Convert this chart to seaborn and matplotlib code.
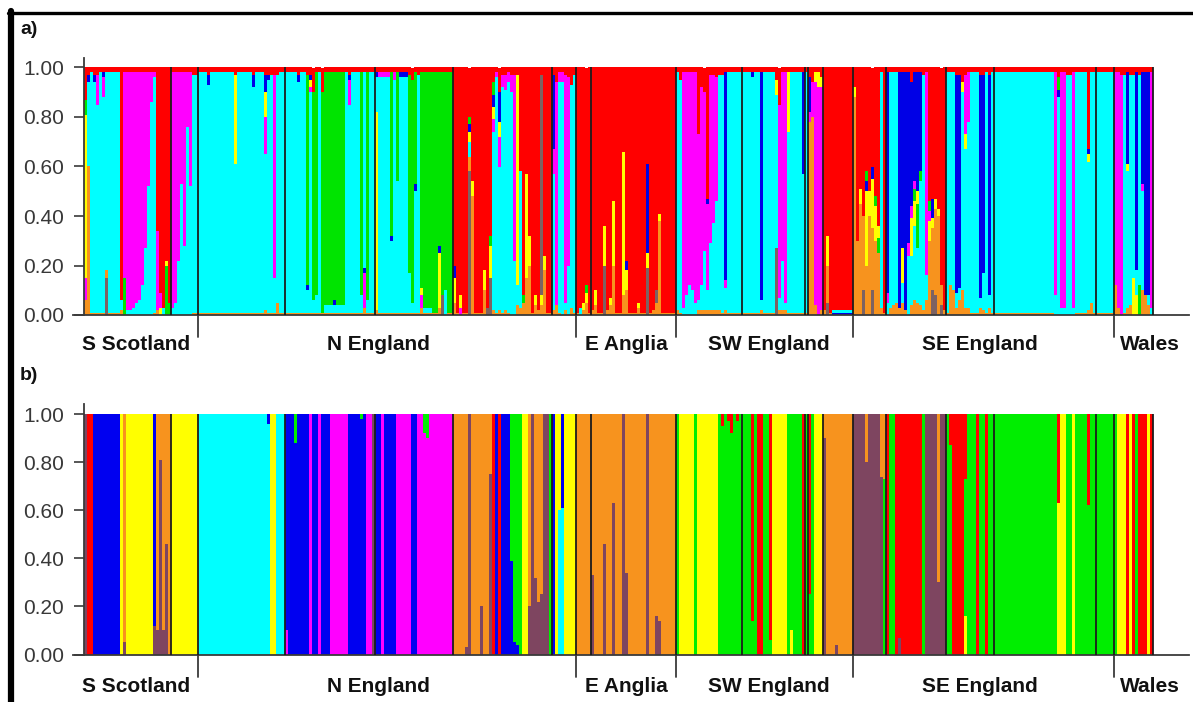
import matplotlib
matplotlib.use("Agg")
import numpy as np
import pandas as pd
import seaborn as sns
import matplotlib.pyplot as plt
from matplotlib.lines import Line2D

# ---------------- data ----------------
regions = ["S Scotland", "N England", "E Anglia", "SW England", "SE England", "Wales"]
label_shift = [-1.5, -3.0, 0.0, 1.5, -1.0, 0.0]   # small nudges of the region labels (individuals)
# individuals per sampled population inside each region (separator lines)
pop_sizes = [[29, 9], [29, 30, 26, 33, 8], [5, 28], [22, 21, 1, 5, 10], [11, 20, 16, 34, 6], [13]]
yticks = [0.0, 0.2, 0.4, 0.6, 0.8, 1.0]

# cluster colour codes
colors_a = {"o": "#F7931E", "w": "#7D6262", "c": "#00FFFF", "g": "#00E400",
            "m": "#FF00FF", "y": "#FFFF00", "b": "#0000E6", "r": "#FF0000"}
colors_b = {"o": "#F7931E", "w": "#7E4560", "c": "#00FFFF", "g": "#00EE00",
            "m": "#FF00FF", "y": "#FFFF00", "b": "#0000F0", "r": "#FF0000"}

# (number of individuals, membership in % from bottom to top)
a_sscot = [(1, "o6 m9 y66 g6 r13"), (1, "o60 c34 b3 r3"), (1, "o1 c97 r2"), (1, "o1 c93 b3 r3"),
           (1, "o1 c84 m12 r3"), (1, "o1 c97 r2"), (1, "o1 c87 m8 b2 r2"), (1, "w15 o3 c80 r2"),
           (4, "o1 c97 r2"), (1, "o2 c4 r94"), (1, "g15 m83 r2"), (2, "c2 m96 r2"), (1, "c3 m95 r2"),
           (1, "c5 m93 r2"), (1, "c6 m92 r2"), (1, "c12 m86 r2"), (1, "c27 m71 r2"), (1, "c52 m46 r2"),
           (1, "c86 m12 r2"), (1, "o1 c95 m2 r2"), (1, "o2 m32 r66"), (1, "y3 m6 r91"), (1, "c3 r97"),
           (1, "g20 y2 r78"), (1, "g5 r95"),
           (1, "c3 m95 r2"), (1, "c5 m93 r2"), (1, "c22 m76 r2"), (1, "c53 m45 r2"), (1, "c28 m70 r2"),
           (1, "c76 m22 r2"), (1, "c52 m46 r2"), (2, "o1 c96 r3")]
a_neng = [(3, "o1 c97 r2"), (1, "o1 c92 b4 r3"), (8, "o1 c97 r2"), (1, "o1 c60 y36 r3"), (5, "o1 c97 r2"),
          (1, "o1 c91 b5 r3"), (3, "o1 c97 r2"), (1, "o2 c63 m15 y10 b7 r3"), (1, "o1 c94 b2 r3"),
          (1, "o1 c96 r3"), (1, "o1 c14 m82 r3"), (1, "o5 c92 r3"), (2, "o1 c97 r2"),
          (4, "o1 c97 r2"), (1, "o1 c93 b3 r3"), (2, "o1 c97 r2"), (1, "o1 c9 b2 g85 r3"),
          (1, "o1 c89 m2 y3 b2 r3"), (1, "o1 c5 g84 r10"), (1, "o1 c7 g90 r2"), (1, "o1 c97 r2"),
          (1, "o1 g89 r10"), (3, "o1 c3 g94 r2"), (1, "o1 c3 b2 g92 r2"), (3, "o1 c3 g94 r2"),
          (1, "o1 c97 r2"), (1, "o1 c84 m10 b2 r3"), (3, "o1 c97 r2"), (1, "o1 c7 g90 r2"),
          (1, "o3 m14 b2 c79 r2"), (1, "o1 c5 g92 r2"), (2, "o1 c97 r2"),
          (1, "o2 y80 c14 b2 r2"), (4, "o1 c95 m2 r2"), (1, "o1 c29 b2 g66 r2"), (1, "o1 c94 m3 r2"),
          (1, "o1 c53 g44 r2"), (3, "o1 c95 b2 r2"), (1, "o1 c16 g80 r3"), (1, "o1 c4 g90 r5"),
          (1, "o1 c49 b3 g45 r2"), (1, "o1 c96 r3"), (1, "o3 m5 y3 g87 r2"), (3, "o1 c2 g95 r2"),
          (2, "o1 g97 r2"), (1, "o3 y22 b3 g70 r2"), (1, "w8 g90 r2"), (1, "c10 g88 r2"), (2, "o1 g97 r2"),
          (1, "o5 y10 b5 r80"), (1, "o1 r99"), (1, "m3 y5 r92"), (2, "o1 r99"),
          (1, "w58 o6 c6 y4 b3 g3 r20"), (1, "o48 y6 r46"), (3, "o1 r99"), (1, "o10 y8 r82"),
          (1, "w3 r97"), (1, "w15 y13 g4 r68"), (1, "o2 c72 m5 y5 b5 g5 r6"), (1, "o1 c95 m2 r2"),
          (1, "o2 c58 m12 y6 b12 r10"), (1, "o1 c91 m5 r3"), (1, "o2 c89 m6 r3"), (1, "o1 c93 m4 r2"),
          (1, "c90 m7 r3"), (1, "c22 m75 r3"), (1, "o4 c8 y85 r3"), (1, "o3 c55 r42"), (1, "o5 g3 r92"),
          (1, "o15 y42 r43"), (1, "o20 y12 r68"), (1, "o1 r99"), (1, "o4 y4 r92"), (1, "o2 r98"),
          (1, "o4 y4 w89 r3"), (1, "o18 y6 r76"), (2, "o1 r99"),
          (1, "o2 c55 m10 b30 r3"), (1, "o4 m90 r6"), (1, "o1 c93 m4 r2"), (1, "c94 m4 r2"),
          (1, "o2 c3 m92 r3"), (1, "c20 m76 r4"), (1, "o3 c90 r7"), (1, "o1 c96 r3")]
a_eang = [(1, "o1 r99"), (1, "c3 r97"), (1, "o2 y3 r95"), (1, "o5 y4 g3 r88"), (1, "o1 r99"),
          (1, "o2 r98"), (1, "o4 y6 r90"), (2, "o1 r99"), (1, "w20 y16 r64"), (1, "o2 r98"),
          (1, "o4 y3 r93"), (1, "o20 y26 r54"), (2, "o1 r99"), (1, "o8 y58 r34"), (1, "o10 y8 b4 r78"),
          (3, "o1 r99"), (1, "o3 y2 r95"), (2, "o1 r99"), (1, "w19 y6 b36 r39"), (1, "o1 r99"),
          (1, "o2 r98"), (1, "o5 w5 r90"), (1, "o38 y3 r59"), (5, "o1 r99")]
a_sweng = [(1, "o2 c96 r2"), (1, "o1 c94 r5"), (1, "c3 m95 r2"), (1, "c8 m90 r2"), (1, "c12 m86 r2"),
           (1, "c10 m88 r2"), (1, "c5 m93 r2"), (1, "o2 c4 m67 r27"), (1, "o2 c10 m80 r8"),
           (1, "o2 c24 m64 r10"), (1, "o2 c8 m35 b2 r53"), (1, "o2 c27 m68 r3"), (1, "o2 c35 m60 r3"),
           (1, "o2 c44 m50 r4"), (1, "o2 c95 r3"), (1, "o1 c96 r3"), (1, "o2 c9 m3 b84 r2"),
           (5, "o1 c97 r2"),
           (3, "o1 c97 r2"), (1, "o1 c95 b2 r2"), (2, "o1 c97 r2"), (1, "o2 c4 b92 r2"), (4, "o1 c97 r2"),
           (1, "w27 c62 y6 r5"), (1, "o2 c5 m78 r15"), (1, "o2 c20 m76 r2"), (1, "o2 c3 m93 r2"),
           (1, "o1 c73 y24 r2"), (4, "o1 c97 r2"), (1, "o1 c56 b41 r2"),
           (1, "o1 c97 r2"),
           (1, "o78 m4 b14 r4"), (1, "o80 m14 r6"), (1, "o4 m90 y4 r2"), (1, "m92 y6 r2"), (1, "o2 m90 y4 r4"),
           (1, "o2 r98"), (1, "w5 o15 y12 r68"), (1, "o1 r99"), (7, "b1 c1 r98")]
a_seeng = [(1, "o88 y4 r8"), (1, "o30 r70"), (1, "o45 y6 r49"), (1, "w10 o30 r60"),
           (1, "o20 y30 b4 g4 r42"), (1, "o40 y10 r50"), (1, "w10 o25 y20 b5 r40"), (1, "o30 y14 g4 r52"),
           (1, "o25 g6 y5 r64"), (1, "o3 c95 r2"), (1, "o1 r99"),
           (1, "c5 m4 b89 r2"), (1, "o3 c95 r2"), (1, "o4 c94 r2"), (1, "o5 c93 r2"), (1, "o3 b95 r2"),
           (1, "o5 c8 y14 b71 r2"), (1, "o2 b96 r2"), (1, "c24 m5 b69 r2"), (1, "o4 c20 y15 m5 b50 r6"),
           (1, "o6 c30 y10 g5 m3 b44 r2"), (1, "o5 c22 g18 y5 b48 r2"), (1, "o4 c50 g4 b40 r2"),
           (1, "o2 c95 r3"), (1, "o6 c10 m82 r2"), (1, "o30 y8 m4 g4 r54"), (1, "w10 o25 y4 b8 r53"),
           (1, "w8 o35 y4 r53"), (1, "o40 y3 r57"), (1, "w4 o8 r88"), (1, "o2 r98"),
           (1, "o1 c97 r2"), (1, "o12 c86 r2"), (1, "o10 c88 r2"), (1, "o3 c6 b88 r3"), (1, "o6 c5 b86 r3"),
           (1, "o10 c80 y4 r6"), (1, "o3 c64 y6 m24 r3"), (1, "o3 c75 m20 r2"), (3, "o1 c97 r2"),
           (1, "o3 c4 b90 r3"), (1, "o2 c15 b80 r3"), (1, "o1 c97 r2"), (1, "o3 c5 b89 r3"), (1, "o1 c97 r2"),
           (19, "o1 c97 r2"), (1, "o1 c97 r2"), (1, "c8 m90 r2"), (1, "c88 b3 g5 r4"), (2, "c3 m95 r2"),
           (2, "c97 r3"), (1, "c3 m95 r2"), (4, "o1 c97 r2"), (1, "o2 c60 y3 b2 r33"), (1, "o5 c93 r2"),
           (1, "o1 c97 r2"),
           (6, "o1 c97 r2")]
a_wales = [(1, "o12 m86 r2"), (1, "o3 m95 r2"), (1, "m97 r3"), (1, "o1 c96 r3"), (1, "o3 c55 y3 b37 r2"),
           (1, "o4 c93 r3"), (1, "y15 c82 r3"), (1, "y8 c10 b80 r2"), (1, "g12 c85 r3"),
           (1, "o10 c40 m3 b45 r2"), (1, "o8 b90 r2"), (1, "o4 c4 b90 r2"), (1, "c3 m95 r2")]

b_sscot = [(1, "w100"), (2, "r100"), (9, "b100"), (1, "y100"), (1, "w5 o95"), (9, "y100"), (1, "w12 b88"),
           (1, "w10 o90"), (1, "w81 o19"), (1, "w10 o90"), (1, "w46 o54"), (1, "o100"), (9, "y100")]
b_neng = [(23, "c100"), (1, "c96 b4"), (2, "y100"), (3, "c100"),
          (1, "m10 b90"), (2, "b100"), (1, "b88 g12"), (4, "b100"), (1, "m100"), (2, "b100"), (1, "m100"),
          (3, "b100"), (6, "m100"), (4, "b100"), (1, "b98 g2"), (1, "b100"), (2, "m100"), (1, "w100"),
          (2, "b100"), (1, "m100"), (4, "b100"), (5, "m100"), (2, "b100"), (2, "m100"), (1, "m92 g8"),
          (1, "m90 g10"), (8, "m100"),
          (4, "o100"), (1, "w3 o97"), (1, "w100"), (3, "o100"), (1, "w20 o80"), (2, "o100"), (1, "w75 o25"),
          (1, "r100"), (1, "b100"), (1, "r100"), (3, "b100"), (1, "b39 g61"), (1, "b5 g95"), (1, "b4 g96"),
          (1, "g100"), (2, "y100"), (1, "w20 o80"), (1, "w100"), (1, "w32 o68"), (1, "w22 o78"),
          (1, "w25 o75"), (2, "w100"), (1, "g100"),
          (1, "b100"), (1, "y100"), (1, "c60 y40"), (1, "c61 b39"), (4, "y100")]
b_eang = [(5, "o100"),
          (1, "w33 o67"), (3, "o100"), (1, "w46 o54"), (2, "o100"), (1, "w63 o37"), (2, "o100"), (1, "w100"),
          (1, "w34 o66"), (6, "o100"), (1, "w100"), (2, "o100"), (1, "w16 o84"), (1, "w14 o86"), (5, "o100")]
b_sweng = [(1, "g100"), (5, "y100"), (1, "g100"), (7, "y100"), (1, "g100"), (1, "g95 r5"), (1, "g100"),
           (1, "g97 r3"), (1, "g92 r8"), (1, "g100"), (1, "g97 r3"), (1, "g100"),
           (3, "g100"), (1, "g14 r86"), (1, "g100"), (2, "r100"), (2, "g100"), (1, "g6 r94"), (5, "y100"),
           (1, "g100"), (1, "y10 g90"), (3, "g100"), (1, "r100"),
           (1, "g100"),
           (1, "g25 r75"), (1, "g100"), (3, "y100"),
           (1, "w90 o10"), (3, "o100"), (1, "w4 o96"), (5, "o100")]
b_seeng = [(4, "w100"), (1, "w80 o20"), (4, "w100"), (1, "w74 o26"), (1, "g73 o27"),
           (1, "r100"), (2, "g100"), (1, "r100"), (1, "w7 r93"), (7, "r100"), (1, "g100"), (4, "w100"),
           (1, "w30 o70"), (2, "w100"),
           (1, "g100"), (1, "g87 r13"), (4, "r100"), (1, "y16 g57 r27"), (3, "g100"), (1, "r100"),
           (2, "g100"), (1, "r100"), (2, "g100"),
           (21, "g100"), (1, "y63 r37"), (2, "y100"), (2, "g100"), (1, "y100"), (4, "g100"), (1, "g62 r38"),
           (2, "g100"),
           (6, "g100")]
b_wales = [(1, "g100"), (3, "y100"), (1, "r100"), (1, "y100"), (1, "r100"), (1, "g100"), (3, "r100"),
           (1, "y100"), (1, "r100")]

panel_a = [a_sscot, a_neng, a_eang, a_sweng, a_seeng, a_wales]
panel_b = [b_sscot, b_neng, b_eang, b_sweng, b_seeng, b_wales]

# ---------------- drawing ----------------
sns.set_theme(style="ticks")
plt.rcParams["font.family"] = ["Liberation Sans", "DejaVu Sans"]

region_sizes = [sum(p) for p in pop_sizes]
N = sum(region_sizes)
region_edges = np.cumsum([0] + region_sizes)
pop_edges = np.cumsum([0] + [s for p in pop_sizes for s in p])

W, H = 1193, 702
x0_px, x1_px = 84, 1153
ppu = (x1_px - x0_px) / N


def parse(spec):
    comps = [(tok[0], float(tok[1:])) for tok in spec.split()]
    tot = sum(v for _, v in comps)
    return [(c, v / tot) for c, v in comps]


def individuals(region_lists):
    out = []
    for k, lst in enumerate(region_lists):
        seg = []
        for n, s in lst:
            seg += [s] * n
        need = region_sizes[k]
        if len(seg) != need:
            print("region", regions[k], "has", len(seg), "expected", need)
            seg = (seg + [seg[-1]] * need)[:need]
        out += seg
    return out


def draw_panel(ax, region_lists, colors, label_y, tick_len):
    specs = individuals(region_lists)
    rows = []
    for i, s in enumerate(specs):
        cum = 0.0
        for code, f in parse(s):
            rows.append((i, code, f, cum))
            cum += f
    df = pd.DataFrame(rows, columns=["ind", "cluster", "q", "bottom"])
    for code, g in df.groupby("cluster"):
        ax.bar(g["ind"], g["q"], bottom=g["bottom"], width=1.0, align="edge",
               color=colors[code], linewidth=0, antialiased=False)
    # population separators
    for e in pop_edges[1:]:
        ax.vlines(e, 0, 1, color="#1c1c1c", lw=1.3, zorder=3)
    # axes styling
    ax.set_xlim(-11 / ppu, N + 36 / ppu)
    ax.set_ylim(0, 1.04)
    sns.despine(ax=ax, top=True, right=True)
    ax.spines["left"].set_position(("data", 0))
    for sp in ("left", "bottom"):
        ax.spines[sp].set_color("#3a3a3a")
        ax.spines[sp].set_linewidth(1.3)
    ax.set_xticks([])
    ax.set_yticks(yticks)
    ax.set_yticklabels([f"{v:.2f}" for v in yticks], fontsize=15, color="#383838")
    ax.tick_params(axis="y", length=7.5, width=1.2, color="#3a3a3a", pad=7)
    ax.grid(False)
    ax.set_facecolor("white")
    # region ticks and labels
    for e in region_edges[1:-1]:
        ax.plot([e, e], [0, -tick_len], color="#3a3a3a", lw=1.3, clip_on=False)
    for k, name in enumerate(regions):
        if name == "Wales":
            ax.text(region_edges[k] + 2, label_y, name, ha="left", va="center",
                    fontsize=15, fontweight="bold", color="#111111")
        else:
            ax.text((region_edges[k] + region_edges[k + 1]) / 2 + label_shift[k], label_y, name,
                    ha="center", va="center", fontsize=15, fontweight="bold", color="#111111")


fig = plt.figure(figsize=(W / 100, H / 100), dpi=100)
fig.patch.set_facecolor("white")
ax_left = (x0_px - 11) / W
ax_width = ((N + 47 / ppu) * ppu) / W

# panel a: 0.00 at y=315 px, 1.00 at y=67.5 px
a0, a1 = 315, 67.5
top_a = a0 - 1.04 * (a0 - a1)
axA = fig.add_axes([ax_left, (H - a0) / H, ax_width, (a0 - top_a) / H])
# panel b: 0.00 at y=654.5 px, 1.00 at y=414 px
b0, b1 = 654.5, 414
top_b = b0 - 1.04 * (b0 - b1)
axB = fig.add_axes([ax_left, (H - b0) / H, ax_width, (b0 - top_b) / H])

draw_panel(axA, panel_a, colors_a, label_y=(a0 - 345) / (a0 - a1), tick_len=22 / (a0 - a1))
draw_panel(axB, panel_b, colors_b, label_y=(b0 - 686) / (b0 - b1), tick_len=22 / (b0 - b1))

fig.text(20 / W, 1 - 30 / H, "a)", fontsize=14, fontweight="bold", va="center", ha="left", color="#111111")
fig.text(20 / W, 1 - 375 / H, "b)", fontsize=14, fontweight="bold", va="center", ha="left", color="#111111")

# frame lines (left and top)
fig.add_artist(Line2D([11 / W, 11 / W], [0, 1 - 11 / H], transform=fig.transFigure, color="black", lw=4.5))
fig.add_artist(Line2D([8 / W, 1], [1 - 13 / H, 1 - 13 / H], transform=fig.transFigure, color="black", lw=2.4))

fig.savefig("out.png", dpi=100, facecolor="white")
